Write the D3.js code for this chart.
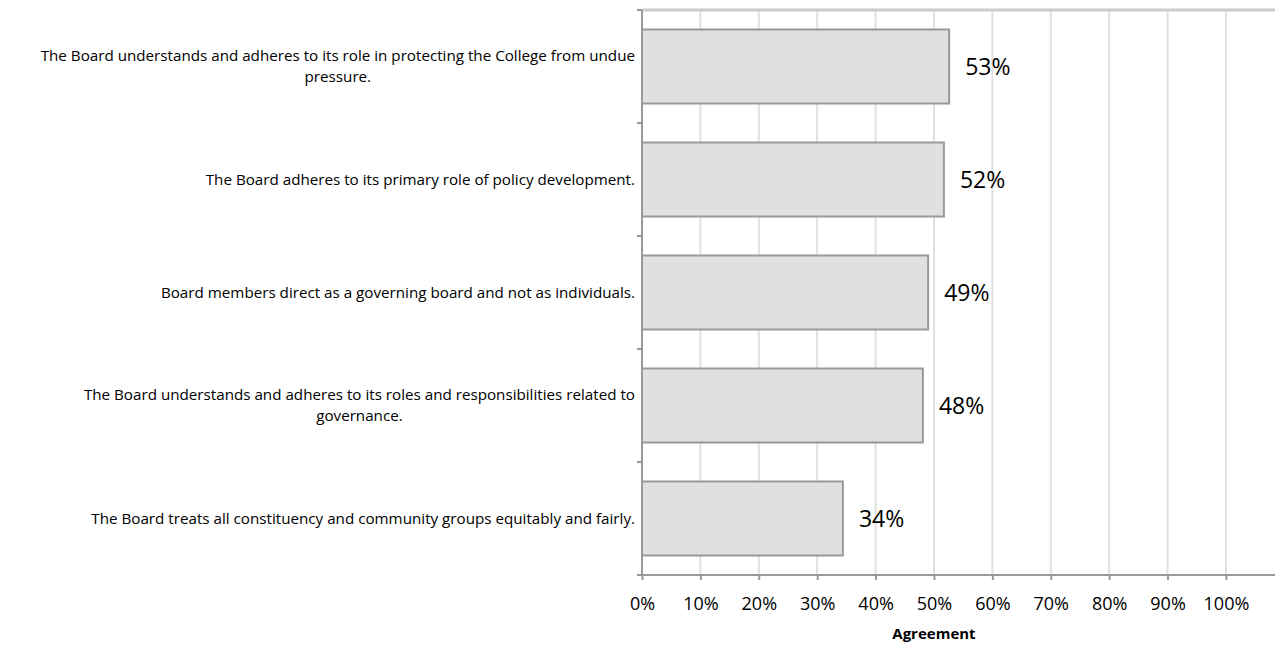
<!DOCTYPE html>
<html>
<head>
<meta charset="utf-8">
<script src="https://cdn.jsdelivr.net/npm/d3@7"></script>
<style>
  body { margin: 0; background: #fff; }
  svg { font-family: "Open Sans", Lato, sans-serif; }
</style>
</head>
<body>
<svg id="chart"></svg>
<script>
const categories = [
    ["The Board understands and adheres to its role in protecting the College from undue", "pressure."],
    ["The Board adheres to its primary role of policy development."],
    ["Board members direct as a governing board and not as individuals."],
    ["The Board understands and adheres to its roles and responsibilities related to", "governance."],
    ["The Board treats all constituency and community groups equitably and fairly."]
];
const agreement = [0.526, 0.517, 0.490, 0.481, 0.344];
const xTicks = [0, 0.1, 0.2, 0.3, 0.4, 0.5, 0.6, 0.7, 0.8, 0.9, 1.0];
const xTitle = "Agreement";

const width = 1275, height = 650;
const margin = {top: 10, right: 0, bottom: 75, left: 642};

const svg = d3.select('#chart')
    .attr('width', width)
    .attr('height', height);

const x = d3.scaleLinear()
    .domain([0, 1.084])
    .range([margin.left, width - margin.right]);

const y = d3.scaleBand()
    .domain(d3.range(categories.length))
    .range([margin.top, height - margin.bottom])
    .paddingInner(0.345)
    .paddingOuter(0.1725);

const yBound = d3.scaleLinear()
    .domain([0, categories.length])
    .range([margin.top, height - margin.bottom]);

// grid lines
svg.append('g')
    .selectAll('line')
    .data(xTicks.slice(1))
    .enter()
    .append('line')
    .attr('x1', d => x(d)).attr('x2', d => x(d))
    .attr('y1', margin.top).attr('y2', height - margin.bottom)
    .attr('stroke', '#e0e0e0')
    .attr('stroke-width', 2);

// top border line
svg.append('line')
    .attr('x1', margin.left).attr('x2', width)
    .attr('y1', margin.top).attr('y2', margin.top)
    .attr('stroke', '#cccccc')
    .attr('stroke-width', 3);

// bars
svg.append('g')
    .selectAll('rect')
    .data(agreement)
    .enter()
    .append('rect')
    .attr('x', x(0))
    .attr('y', (d, i) => y(i))
    .attr('width', d => x(d) - x(0))
    .attr('height', y.bandwidth())
    .attr('fill', '#e0e0e0')
    .attr('stroke', '#999999')
    .attr('stroke-width', 2);

// value labels
svg.append('g')
    .selectAll('text')
    .data(agreement)
    .enter()
    .append('text')
    .attr('x', d => x(d) + 16)
    .attr('y', (d, i) => y(i) + y.bandwidth() / 2)
    .attr('dy', '0.35em')
    .style('font-size', '23px')
    .attr('fill', '#000')
    .text(d => d3.format('.0%')(d));

// left axis with ticks at category boundaries
const leftAxis = svg.append('g');
leftAxis.append('line')
    .attr('x1', margin.left).attr('x2', margin.left)
    .attr('y1', margin.top).attr('y2', height - margin.bottom)
    .attr('stroke', '#999999').attr('stroke-width', 2);
leftAxis.selectAll('.tick')
    .data(d3.range(categories.length + 1))
    .enter()
    .append('line')
    .attr('x1', margin.left - 5).attr('x2', margin.left)
    .attr('y1', d => yBound(d)).attr('y2', d => yBound(d))
    .attr('stroke', '#999999').attr('stroke-width', 2);

// bottom axis
const xAxis = d3.axisBottom(x)
    .tickValues(xTicks)
    .tickSize(5)
    .tickFormat(d3.format('.0%'));

const gx = svg.append('g')
    .attr('transform', `translate(0, ${height - margin.bottom})`)
    .call(xAxis);
gx.select('.domain')
    .attr('d', `M${margin.left},0H${width}`)
    .attr('stroke', '#999999').attr('stroke-width', 2);
gx.selectAll('.tick line').attr('stroke', '#999999').attr('stroke-width', 2);
gx.selectAll('.tick text')
    .attr('y', 22)
    .attr('dy', '0.71em')
    .style('font-size', '18px')
    .style('font-family', '"Open Sans", Lato, sans-serif')
    .attr('fill', '#000');

svg.append('text')
    .attr('x', (x(0) + x(1)) / 2)
    .attr('y', 639)
    .attr('text-anchor', 'middle')
    .style('font-size', '15px')
    .style('font-weight', 'bold')
    .text(xTitle);

// category labels: multi-line blocks centred on their widest line, right-aligned to the axis
const labels = svg.append('g');
categories.forEach((lines, i) => {
    const g = labels.append('g');
    const texts = lines.map((ln, j) => g.append('text')
        .style('font-size', '15.2px')
        .attr('text-anchor', 'middle')
        .attr('fill', '#000')
        .text(ln));
    const widest = d3.max(texts, t => t.node().getComputedTextLength());
    const cx = margin.left - 7 - widest / 2;
    const lineH = 21;
    const cy = y(i) + y.bandwidth() / 2;
    texts.forEach((t, j) => {
        t.attr('x', cx)
         .attr('y', cy + (j - (lines.length - 1) / 2) * lineH)
         .attr('dy', '0.35em');
    });
});
</script>
</body>
</html>
